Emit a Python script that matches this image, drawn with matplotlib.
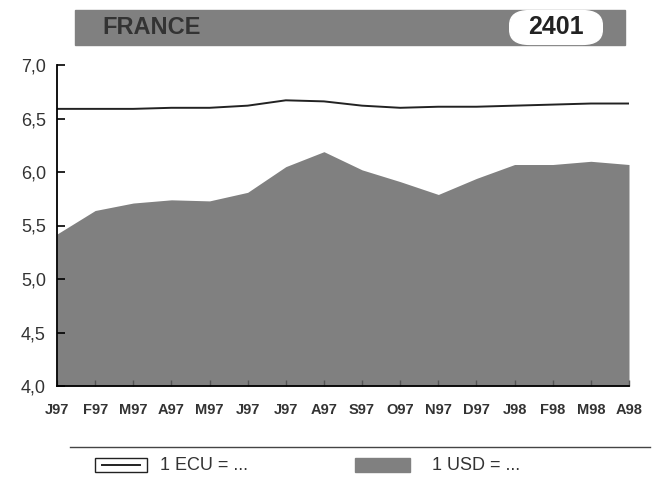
import matplotlib.pyplot as plt
from matplotlib.patches import FancyBboxPatch, Rectangle
from matplotlib.lines import Line2D

plt.rcParams["font.family"] = ["Liberation Sans", "DejaVu Sans"]

months = ["J97", "F97", "M97", "A97", "M97", "J97", "J97", "A97",
          "S97", "O97", "N97", "D97", "J98", "F98", "M98", "A98"]
usd = [5.42, 5.64, 5.71, 5.74, 5.73, 5.81, 6.05, 6.19,
       6.02, 5.91, 5.79, 5.94, 6.07, 6.07, 6.10, 6.07]
ecu = [6.59, 6.59, 6.59, 6.60, 6.60, 6.62, 6.67, 6.66,
       6.62, 6.60, 6.61, 6.61, 6.62, 6.63, 6.64, 6.64]
yticks = [4.0, 4.5, 5.0, 5.5, 6.0, 6.5, 7.0]
ytick_labels = ["4,0", "4,5", "5,0", "5,5", "6,0", "6,5", "7,0"]

GRAY = "#808080"
W, H = 660, 479

fig = plt.figure(figsize=(6.6, 4.79), dpi=100)
ax = fig.add_axes([57 / W, 1 - 386 / H, 572 / W, 321 / H])

x = list(range(len(months)))
ax.fill_between(x, 4.0, usd, color=GRAY, linewidth=0)
ax.plot(x, ecu, color="#222222", linewidth=1.4)

ax.set_xlim(0, len(months) - 1)
ax.set_ylim(4.0, 7.0)
ax.set_yticks(yticks)
ax.set_yticklabels(ytick_labels, fontsize=13, color="#333333")
ax.set_xticks(x)
ax.set_xticklabels(months, fontsize=10.5, fontweight="bold", color="#333333")
ax.tick_params(axis="y", direction="in", length=6, width=1.2, pad=8)
ax.tick_params(axis="x", direction="in", length=4, width=1, pad=12, color="#555555")
for side in ["top", "right"]:
    ax.spines[side].set_visible(False)
ax.spines["left"].set_linewidth(1.3)
ax.spines["bottom"].set_linewidth(1.3)

# header banner
fig.patches.append(Rectangle((75 / W, 1 - 45 / H), 550 / W, 35 / H,
                             transform=fig.transFigure, color=GRAY))
fig.patches.append(FancyBboxPatch((513 / W, 1 - 42 / H), 86 / W, 29 / H,
                                  boxstyle="round,pad=0.005,rounding_size=0.03",
                                  transform=fig.transFigure, color="white"))
fig.text(102 / W, 1 - 27 / H, "FRANCE", fontsize=17, fontweight="bold",
         color="#333333", va="center", ha="left")
fig.text(556 / W, 1 - 27 / H, "2401", fontsize=18, fontweight="bold",
         color="#222222", va="center", ha="center")

# legend
fig.lines.append(Line2D([70 / W, 650 / W], [1 - 447 / H, 1 - 447 / H],
                        transform=fig.transFigure, color="#444444", linewidth=1))
fig.patches.append(Rectangle((95 / W, 1 - 472 / H), 52 / W, 14 / H,
                             transform=fig.transFigure, facecolor="white",
                             edgecolor="#222222", linewidth=1))
fig.lines.append(Line2D([102 / W, 140 / W], [1 - 465 / H, 1 - 465 / H],
                        transform=fig.transFigure, color="#222222", linewidth=1.4))
fig.text(160 / W, 1 - 465 / H, "1 ECU = ...", fontsize=13, color="#333333",
         va="center", ha="left")
fig.patches.append(Rectangle((355 / W, 1 - 472 / H), 55 / W, 14 / H,
                             transform=fig.transFigure, color=GRAY))
fig.text(432 / W, 1 - 465 / H, "1 USD = ...", fontsize=13, color="#333333",
         va="center", ha="left")

fig.savefig("out.png", dpi=100)
